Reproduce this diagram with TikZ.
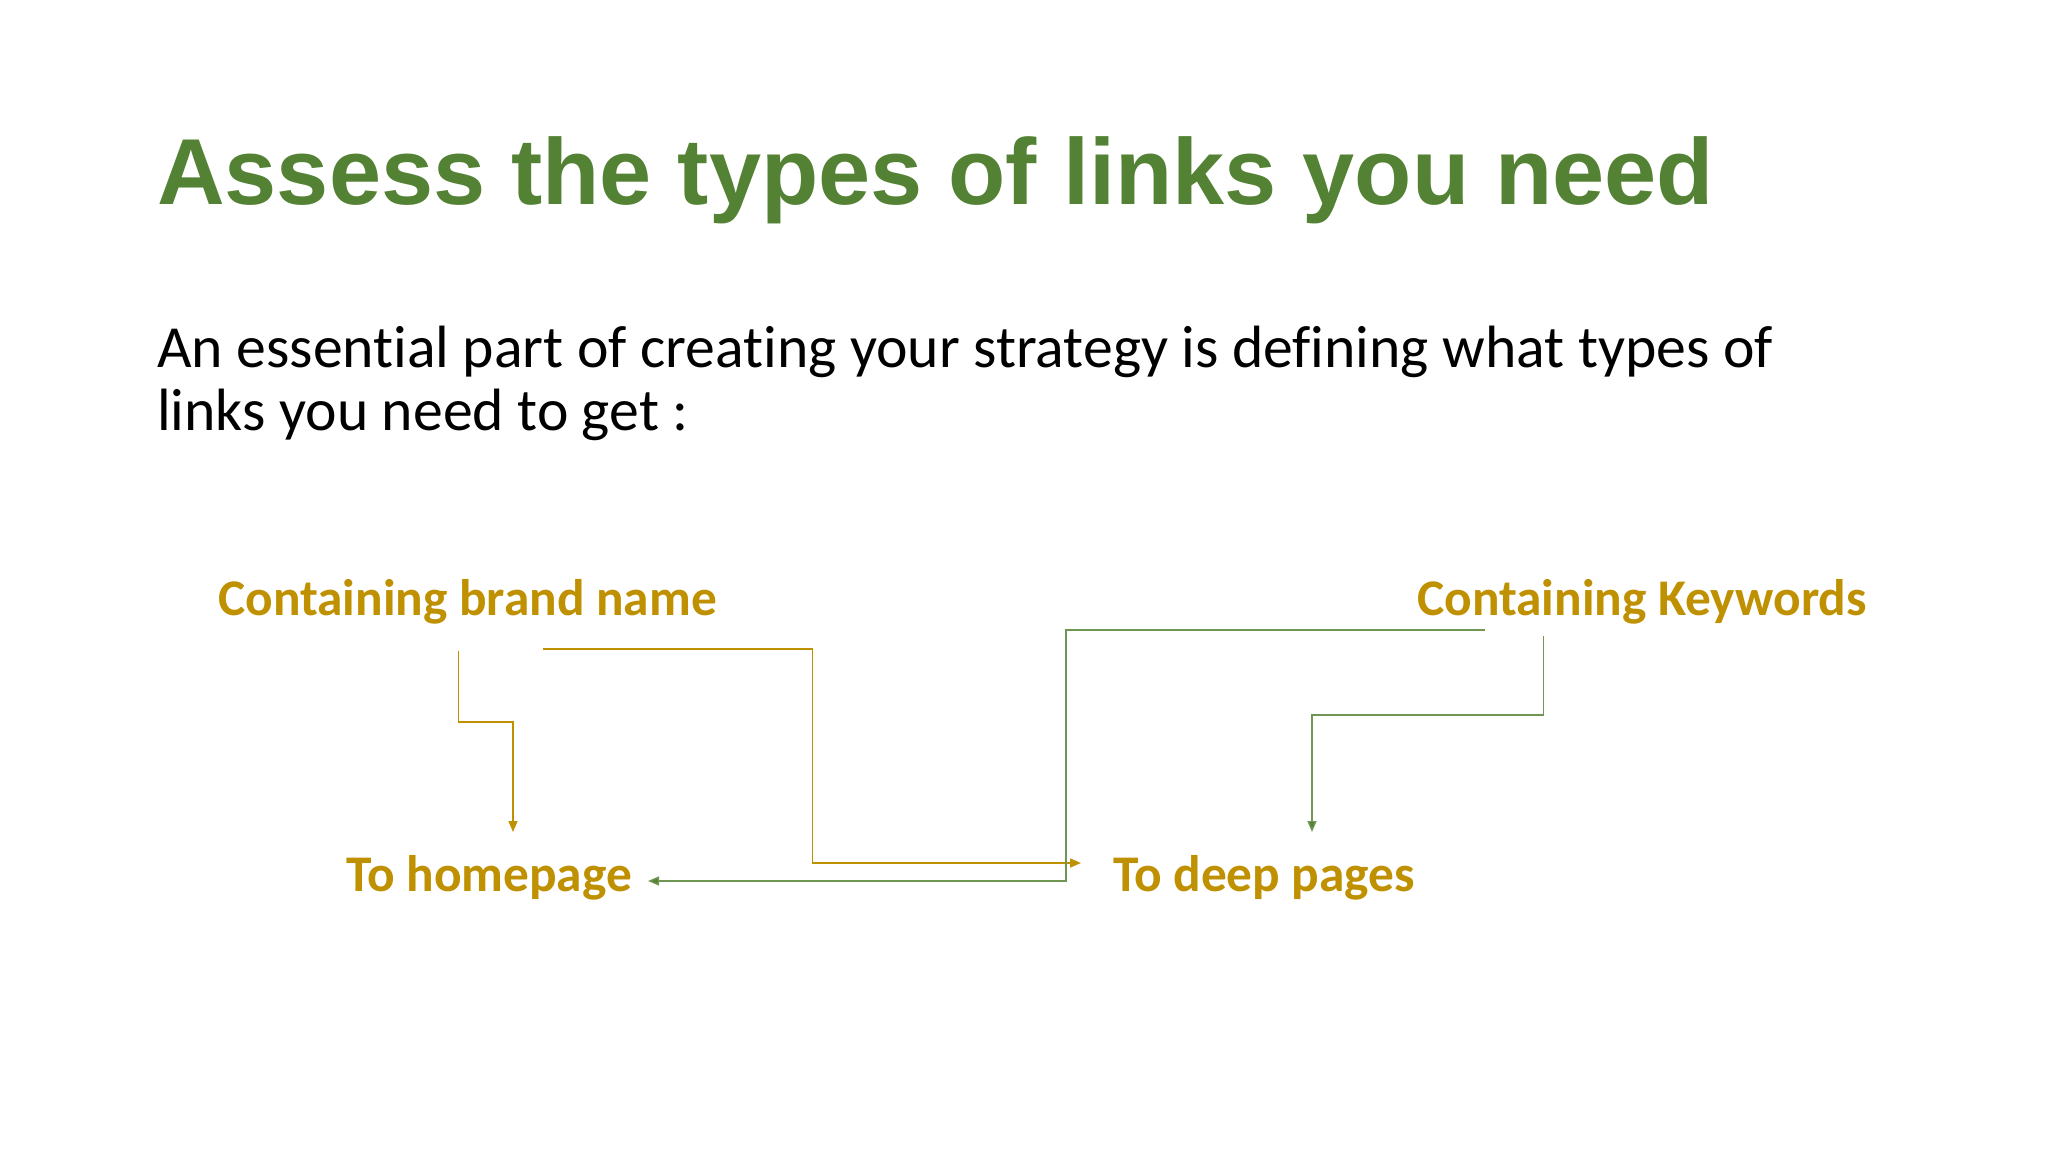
\documentclass[tikz,border=0pt]{standalone}
\usepackage{fontspec}
\setmainfont{Carlito}[Ligatures={NoCommon}]
\newfontfamily\titlefont{Liberation Sans}
\usetikzlibrary{arrows.meta}
\definecolor{titlegreen}{HTML}{548235}
\definecolor{labelgold}{HTML}{BF9000}
\definecolor{linegreen}{HTML}{6F9652}
\tikzset{
  titletext/.style={anchor=base west, inner sep=0pt, text=titlegreen, font=\titlefont\bfseries\fontsize{93.7}{100}\selectfont},
  bodytext/.style={anchor=base west, inner sep=0pt, text=black, font=\fontsize{59.7}{63}\selectfont},
  labeltext/.style={anchor=base west, inner sep=0pt, text=labelgold, font=\bfseries\fontsize{51.4}{60}\selectfont},
  goldline/.style={draw=labelgold, line width=1.4pt, -{Triangle[length=11pt,width=9pt]}},
  greenline/.style={draw=linegreen, line width=1.4pt, -{Triangle[length=11pt,width=9pt,fill=titlegreen]}},
}
\begin{document}
\begin{tikzpicture}[x=1pt,y=-1pt]
\useasboundingbox[fill=white] (0,0) rectangle (2048,1152);
\node[titletext] (title) at (157,204) {Assess the types of links you need};
\node[bodytext] (body1) at (157,367) {An essential part of creating your strategy is defining what types of};
\node[bodytext] (body2) at (157,430) {links you need to get :};
\node[labeltext] (brand) at (218,615) {Containing brand name};
\node[labeltext] (keys) at (1417,615) {Containing Keywords};
\node[labeltext] (home) at (346,891) {To homepage};
\node[labeltext] (deep) at (1113,891) {To deep pages};
% connector end points
\coordinate (bA) at (458.5,650.5);
\coordinate (bB) at (543,649);
\coordinate (kA) at (1485,630);
\coordinate (kB) at (1543.5,636);
\coordinate (homeTop) at (513,832);
\coordinate (homeRight) at (648,881);
\coordinate (deepLeft) at (1081,863);
\coordinate (deepTop) at (1312,832);
% connectors
\draw[goldline] (bA) -- (458.5,722) -| (homeTop);
\draw[goldline] (bB) -| (812.5,863) -- (deepLeft);
\draw[greenline] (kA) -| (1066,881) -- (homeRight);
\draw[greenline] (kB) -- (1543.5,715) -| (deepTop);
\end{tikzpicture}
\end{document}
